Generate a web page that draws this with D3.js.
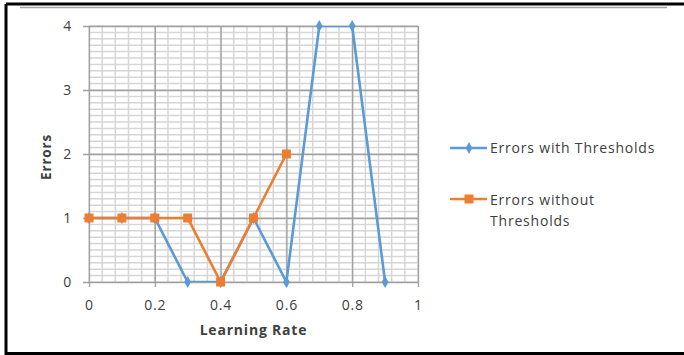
<!DOCTYPE html>
<html>
<head>
<meta charset="utf-8">
<script src="https://cdn.jsdelivr.net/npm/d3@7"></script>
<style>
  body { margin: 0; background: #fff; }
  text { font-family: "Open Sans", sans-serif; fill: #404040; letter-spacing: 0.8px; }
</style>
</head>
<body>
<svg id="chart" width="684" height="355"></svg>
<script>
// learning rates and error counts
var rates = [0, 0.1, 0.2, 0.3, 0.4, 0.5, 0.6, 0.7, 0.8, 0.9];
var withThresholds = [1, 1, 1, 0, 0, 1, 0, 4, 4, 0];
var withoutThresholds = [1, 1, 1, 1, 0, 1, 2];
var xTicks = [0, 0.2, 0.4, 0.6, 0.8, 1];
var yTicks = [0, 1, 2, 3, 4];
var seriesNames = ["Errors with Thresholds", "Errors without Thresholds"];
var colors = ["#5b9bd5", "#ed7d31"];

var margin = ({top: 26, left: 89, right: 418, bottom: 282});

var svg = d3.select("svg#chart");

// frame
svg.append("path")
  .attr("d", "M6,4 H684 M6,4 V353.5 H684")
  .attr("fill", "none").attr("stroke", "#000").attr("stroke-width", 3);
svg.append("line")
  .attr("x1", 20).attr("x2", 667).attr("y1", 7.5).attr("y2", 7.5)
  .attr("stroke", "#a6a6a6").attr("stroke-width", 1.5);

var x = d3.scaleLinear().domain([0, 1]).range([margin.left, margin.right]);
var y = d3.scaleLinear().domain([0, 4]).range([margin.bottom, margin.top]);

// minor grid
var grid = svg.append("g");
grid.selectAll(".vminor")
  .data(d3.range(0, 1.0001, 0.04))
  .join("line")
    .attr("x1", d => x(d)).attr("x2", d => x(d))
    .attr("y1", margin.top).attr("y2", margin.bottom)
    .attr("stroke", "#d6d6d6").attr("stroke-width", 1.5);
grid.selectAll(".hminor")
  .data(d3.range(0, 4.0001, 0.1))
  .join("line")
    .attr("x1", margin.left).attr("x2", margin.right)
    .attr("y1", d => y(d)).attr("y2", d => y(d))
    .attr("stroke", "#d6d6d6").attr("stroke-width", 1.5);

// major grid + axes
svg.append("g")
  .attr("transform", `translate(0,${margin.bottom})`)
  .call(d3.axisBottom(x).tickValues(xTicks).tickFormat(d3.format("")).tickSize(-(margin.bottom - margin.top)).tickPadding(18))
  .call(g => g.select(".domain").remove())
  .call(g => g.selectAll(".tick line").attr("stroke", "#a0a0a0").attr("stroke-width", 1.3).attr("y2", 5).attr("y1", -(margin.bottom - margin.top)))
  .call(g => g.selectAll(".tick text").attr("font-size", 14).attr("font-family", "Open Sans").attr("fill", "#404040"));

svg.append("g")
  .attr("transform", `translate(${margin.left},0)`)
  .call(d3.axisLeft(y).tickValues(yTicks).tickFormat(d3.format("d")).tickSize(-(margin.right - margin.left)).tickPadding(17))
  .call(g => g.select(".domain").remove())
  .call(g => g.selectAll(".tick line").attr("stroke", "#a0a0a0").attr("stroke-width", 1.3).attr("x1", -6))
  .call(g => g.selectAll(".tick text").attr("font-size", 14).attr("font-family", "Open Sans").attr("fill", "#404040"));

// axis titles
svg.append("text")
  .attr("x", (margin.left + margin.right) / 2).attr("y", 335)
  .attr("text-anchor", "middle").attr("font-size", 14).attr("font-weight", "bold")
  .text("Learning Rate");
svg.append("text")
  .attr("transform", "translate(51,157) rotate(-90)")
  .attr("text-anchor", "middle").attr("font-size", 13.5).attr("font-weight", "bold")
  .text("Errors");

// lines
svg.append("clipPath").attr("id", "plot")
  .append("rect").attr("x", margin.left).attr("y", margin.top)
  .attr("width", margin.right - margin.left).attr("height", margin.bottom - margin.top);

var line = d3.line().x(d => x(d[0])).y(d => y(d[1]));
var blue = rates.map((r, i) => [r, withThresholds[i]]);
var orange = withoutThresholds.map((v, i) => [rates[i], v]);

svg.append("path").datum(blue)
  .attr("clip-path", "url(#plot)")
  .attr("d", line).attr("fill", "none").attr("stroke", colors[0]).attr("stroke-width", 2.6);
svg.append("g").selectAll("path")
  .data(blue).join("path")
    .attr("transform", d => `translate(${x(d[0])},${y(d[1])})`)
    .attr("d", d3.symbol(d3.symbolDiamond, 40))
    .attr("fill", colors[0]);

svg.append("path").datum(orange)
  .attr("clip-path", "url(#plot)")
  .attr("d", line).attr("fill", "none").attr("stroke", colors[1]).attr("stroke-width", 2.6);
svg.append("g").selectAll("rect")
  .data(orange).join("rect")
    .attr("x", d => x(d[0]) - 4.5).attr("y", d => y(d[1]) - 4.5)
    .attr("width", 9).attr("height", 9)
    .attr("fill", colors[1]);

// legend
var legend = svg.append("g");
legend.append("line").attr("x1", 450).attr("x2", 487).attr("y1", 148).attr("y2", 148)
  .attr("stroke", colors[0]).attr("stroke-width", 2.6);
legend.append("path").attr("transform", "translate(469,148)")
  .attr("d", d3.symbol(d3.symbolDiamond, 40)).attr("fill", colors[0]);
legend.append("text").attr("x", 490).attr("y", 153).attr("font-size", 14).text(seriesNames[0]);

legend.append("line").attr("x1", 450).attr("x2", 487).attr("y1", 199).attr("y2", 199)
  .attr("stroke", colors[1]).attr("stroke-width", 2.6);
legend.append("rect").attr("x", 464.5).attr("y", 194.5).attr("width", 9).attr("height", 9).attr("fill", colors[1]);
legend.append("text").attr("x", 490).attr("y", 205).attr("font-size", 14).text("Errors without");
legend.append("text").attr("x", 490).attr("y", 226).attr("font-size", 14).text("Thresholds");
</script>
</body>
</html>
